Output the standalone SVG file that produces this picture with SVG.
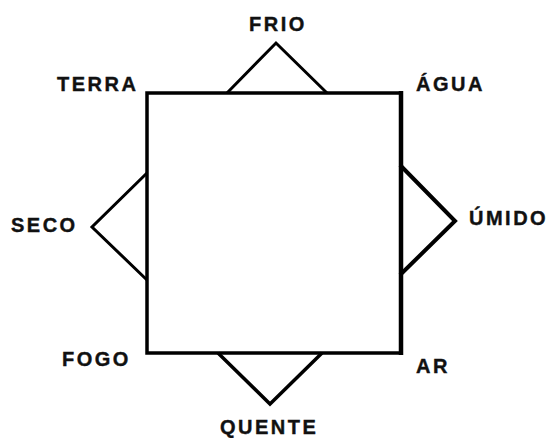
<svg xmlns="http://www.w3.org/2000/svg" width="549" height="438" viewBox="0 0 549 438">
<style>
.t{font-family:"Liberation Sans",Arial,sans-serif;font-weight:bold;font-size:20px;letter-spacing:2.5px;fill:#111;stroke:#111;stroke-width:0.4}
.s{fill:none;stroke:#000;stroke-width:3;stroke-linejoin:miter}
</style>
<rect width="549" height="438" fill="#fff"/>
<g id="connectors">
<polyline class="s" points="227,93 276,43 327,93"/>
<polyline class="s" points="147,173 92,227 147,280"/>
<polyline class="s" points="400,165 455,221 400,275" style="stroke-width:4"/>
<polyline class="s" points="218,353 270,404 322,353" style="stroke-width:3.5"/>
</g>
<g id="square">
<rect x="147" y="93" width="254" height="260" class="s" style="stroke-width:3.5"/>
<line x1="401" y1="91" x2="401" y2="355" stroke="#000" stroke-width="4.5"/>
</g>
<g id="frio"><text class="t" x="249" y="31">FRIO</text></g>
<g id="terra"><text class="t" x="57" y="91">TERRA</text></g>
<g id="agua"><text class="t" x="416" y="91">ÁGUA</text></g>
<g id="seco"><text class="t" x="11" y="232">SECO</text></g>
<g id="umido"><text class="t" x="469" y="225">ÚMIDO</text></g>
<g id="fogo"><text class="t" x="62" y="366">FOGO</text></g>
<g id="ar"><text class="t" x="416" y="373">AR</text></g>
<g id="quente"><text class="t" x="220" y="434">QUENTE</text></g>
</svg>
